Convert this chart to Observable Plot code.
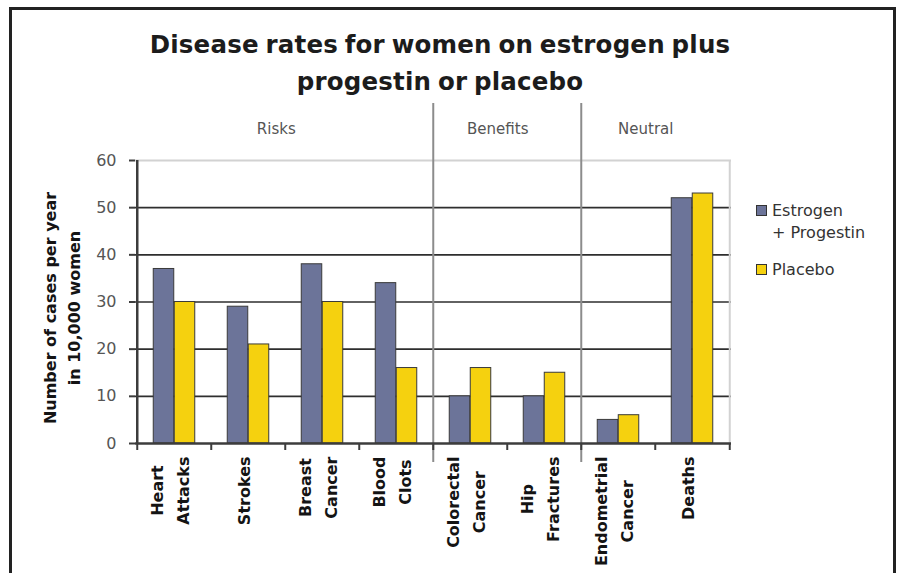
<!DOCTYPE html>
<html>
<head>
<meta charset="utf-8">
<script src="https://cdn.jsdelivr.net/npm/d3@7"></script>
<script src="https://cdn.jsdelivr.net/npm/@observablehq/plot@0.6"></script>
<style>
  html, body { margin: 0; padding: 0; background: #fff; }
  #wrap { position: relative; width: 901px; height: 573px; overflow: hidden; background: #fff; font-family: "DejaVu Sans", sans-serif; }
  #border { position: absolute; left: 9px; top: 7px; width: 881px; height: 800px; border: 3px solid #222; pointer-events: none; }
  #title { height: 100px; box-sizing: border-box; padding-top: 26px; width: 880px; text-align: center; font-weight: bold; font-size: 24.5px; line-height: 37px; color: #1c1c1c; word-spacing: -2px; letter-spacing: 0.2px; }
  #legend { position: absolute; left: 756px; top: 200px; font-size: 16px; color: #333; }
  .item { display: flex; align-items: flex-start; margin-bottom: 15px; }
  .sw { width: 9px; height: 9px; border: 1px solid #333; margin-top: 5px; margin-right: 5px; flex: none; }
  .lab { white-space: pre-line; line-height: 22px; }
  #chart svg { display: block; }
</style>
</head>
<body>
<div id="wrap">
  <div id="title"></div>
  <div id="chart"></div>
  <div id="legend"></div>
  <div id="border"></div>
</div>
<script>
// ---- data ----
const titleLines = ["Disease rates for women on estrogen plus", "progestin or placebo"];
const categories = ["Heart Attacks", "Strokes", "Breast Cancer", "Blood Clots", "Colorectal Cancer", "Hip Fractures", "Endometrial Cancer", "Deaths"];
const categoryLabels = ["Heart\nAttacks", "Strokes", "Breast\nCancer", "Blood\nClots", "Colorectal\nCancer", "Hip\nFractures", "Endometrial\nCancer", "Deaths"];
const sectionOf = ["Risks", "Risks", "Risks", "Risks", "Benefits", "Benefits", "Neutral", "Neutral"];
const sections = ["Risks", "Benefits", "Neutral"];
const series = ["Estrogen + Progestin", "Placebo"];
const seriesLabels = ["Estrogen\n+ Progestin", "Placebo"];
const estrogenPlusProgestin = [37, 29, 38, 34, 10, 10, 5, 52];
const placebo = [30, 21, 30, 16, 16, 15, 6, 53];
const yTicks = [0, 10, 20, 30, 40, 50, 60];
const yLabel = "Number of cases per year\nin 10,000 women";

// ---- layout / style ----
const colors = ["#6c7499", "#f5d10f"];
const W = 901, H = 473, mL = 135, mR = 170, mT = 60, mB = 130;
const step = (W - mL - mR) / categories.length;
const barW = 21;

document.getElementById("title").innerHTML = titleLines.join("<br>");

const legend = document.getElementById("legend");
series.forEach((s, i) => {
  const item = document.createElement("div");
  item.className = "item";
  const sw = document.createElement("span");
  sw.className = "sw";
  sw.style.background = colors[i];
  const lab = document.createElement("span");
  lab.className = "lab";
  lab.textContent = seriesLabels[i];
  item.append(sw, lab);
  legend.append(item);
});

const rows = categories.flatMap((c, i) => [
  {category: c, series: series[0], value: estrogenPlusProgestin[i]},
  {category: c, series: series[1], value: placebo[i]}
]);

// section label positions: first category of section, shifted to section middle
const sectionInfo = sections.map(s => {
  const idx = sectionOf.map((v, i) => v === s ? i : -1).filter(i => i >= 0);
  return {section: s, first: categories[idx[0]], n: idx.length};
});
// dividers: first category of each section after the first
const dividers = sectionInfo.slice(1).map(d => d.first);

const ctx = document.createElement("canvas").getContext("2d");
ctx.font = "bold 16px 'DejaVu Sans'";

const labelMarks = categories.map((c, i) => {
  const longest = Math.max(...categoryLabels[i].split("\n").map(s => ctx.measureText(s).width));
  return Plot.text([c], {
    x: d => d, text: () => categoryLabels[i], frameAnchor: "bottom",
    rotate: -90, textAnchor: "middle", lineAnchor: "middle", lineHeight: 1.625,
    dx: -7, dy: 13 + longest / 2, fontSize: 16, fontWeight: "bold", fill: "#141414"
  });
});

const sectionMarks = sectionInfo.map(s => Plot.text([s.section], {
  x: () => s.first, text: d => d, frameAnchor: "top",
  dx: (s.n - 1) * step / 2 - 10, dy: -37, fontSize: 15, fill: "#555"
}));

const chart = Plot.plot({
  width: W, height: H,
  marginLeft: mL, marginRight: mR, marginTop: mT, marginBottom: mB,
  style: {fontFamily: "'DejaVu Sans', sans-serif", fontSize: "16px", color: "#333", background: "#fff", overflow: "visible"},
  x: {type: "band", domain: categories, padding: 0, axis: null},
  y: {domain: [0, 60]},
  marks: [
    Plot.ruleY(yTicks.filter(v => v > 0 && v < 60), {stroke: "#2e2e2e", strokeWidth: 1.6}),
    Plot.ruleY([60], {stroke: "#d2d2d2", strokeWidth: 2}),
    Plot.ruleX([categories[categories.length - 1]], {x: d => d, dx: step / 2, stroke: "#d2d2d2", strokeWidth: 2}),
    Plot.ruleX(dividers, {x: d => d, dx: -step / 2, insetTop: -57, insetBottom: -19, stroke: "#8c8c8c", strokeWidth: 2}),
    Plot.barY(rows.filter(r => r.series === series[0]), {
      x: "category", y: "value", fill: colors[0], stroke: "#3a3a3a", strokeWidth: 1,
      insetLeft: (step - barW) / 2, insetRight: (step - barW) / 2, dx: -barW / 2
    }),
    Plot.barY(rows.filter(r => r.series === series[1]), {
      x: "category", y: "value", fill: colors[1], stroke: "#3a3a3a", strokeWidth: 1,
      insetLeft: (step - barW) / 2, insetRight: (step - barW) / 2, dx: barW / 2
    }),
    Plot.ruleY([0], {stroke: "#3c3c3c", strokeWidth: 2.5}),
    Plot.ruleX([categories[0]], {x: d => d, dx: -step / 2, stroke: "#3c3c3c", strokeWidth: 2.5}),
    Plot.ruleX(categories, {x: d => d, dx: -step / 2, y1: 0, y2: 0, insetTop: 7, stroke: "#3c3c3c", strokeWidth: 2}),
    Plot.ruleX([categories[categories.length - 1]], {x: d => d, dx: step / 2, y1: 0, y2: 0, insetTop: 7, stroke: "#3c3c3c", strokeWidth: 2}),
    Plot.axisY({ticks: yTicks, tickSize: 6, tickPadding: 13, fontSize: 16, fill: "#555", stroke: "#3c3c3c", strokeWidth: 2, label: null}),
    Plot.text([yLabel], {text: d => d, frameAnchor: "left", textAnchor: "middle", lineAnchor: "middle", rotate: -90, dx: -75, dy: 6, lineHeight: 1.5, fontSize: 16, fontWeight: "bold", fill: "#141414"}),
    ...sectionMarks,
    ...labelMarks
  ]
});
document.getElementById("chart").append(chart);
</script>
</body>
</html>
